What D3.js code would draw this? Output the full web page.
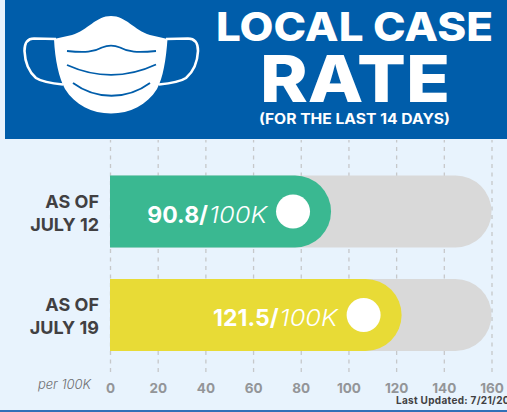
<!DOCTYPE html>
<html>

<head>
  <meta charset="utf-8">
  <title>Local Case Rate</title>
  <script src="https://d3js.org/d3.v7.min.js"></script>
  <style>
    html, body {
      margin: 0;
      padding: 0;
      background: #E8F3FD;
      overflow: hidden;
    }

    svg {
      display: block;
      font-family: Inter, "Open Sans", sans-serif;
    }

    .tick line {
      stroke: #C6C8CA;
      stroke-width: 1.3px;
      stroke-dasharray: 4 4.5;
    }

    .tick text {
      fill: #939598;
      font-size: 13.5px;
      font-weight: 700;
    }
  </style>
</head>

<body>
  <svg id="chart" width="507" height="412"></svg>

  <script>
    // values
    const dates = ["JULY 12", "JULY 19"];
    const rates = ["90.8", "121.5"];
    // the drawn bars run slightly past the printed numbers
    const barValues = [92.7, 122.3];
    const barColors = ["#3AB891", "#E8DB36"];
    const axisMax = 160;
    const axisTicks = [0, 20, 40, 60, 80, 100, 120, 140, 160];

    const svg = d3.select("#chart");

    const x = d3.scaleLinear().domain([0, axisMax]).range([110, 491.5]);
    const y = d3.scaleBand().domain(dates).range([175.5, 351]).paddingInner(0.304);
    const barH = y.bandwidth();
    const radius = barH / 2;

    // bar with square left end and round right end
    function pill(d, value) {
      const p = d3.path();
      const top = y(d);
      const end = x(value);
      p.moveTo(x(0), top);
      p.lineTo(end - radius, top);
      p.arc(end - radius, top + radius, radius, -Math.PI / 2, Math.PI / 2);
      p.lineTo(x(0), top + barH);
      p.closePath();
      return p.toString();
    }

    // header
    svg.append("rect")
      .attr("x", 5).attr("y", 0)
      .attr("width", 502).attr("height", 139)
      .attr("fill", "#005DAA");

    const mask = svg.append("g");
    mask.append("path")
      .attr("fill", "none").attr("stroke", "#fff").attr("stroke-width", 2.6)
      .attr("d", "M56 39 L34 38.5 C26 38.5 24.5 45 24.5 51 C25 62 29 72 36 78 C42 82 52 83.5 63 84.5");
    mask.append("path")
      .attr("fill", "none").attr("stroke", "#fff").attr("stroke-width", 2.6)
      .attr("d", "M166 39 L188 38.5 C196 38.5 198 45 198 51 C197.5 62 193 72 186 78 C180 82 170 83.5 159 84.5");
    mask.append("path")
      .attr("fill", "#fff")
      .attr("d", "M111 16 C96 16 88 30 72 35 L54 39 C55 60 59 78 65 89 C75 105 92 113.500 111 113.500 C130 113.500 147 105 157 89 C163 78 166 60 167.500 39 L150 35 C134 30 126 16 111 16 Z");
    const maskLines = [
      "M67 51 C85 53 94 52 102 47.500 C108 45 114 45 120 47.500 C128 52 137 53 156 51",
      "M67 65 C96 78 127 78 156 64.500",
      "M73 83 C96 100 127 100 150 83"
    ];
    mask.selectAll("path.crease").data(maskLines)
      .join("path")
      .attr("class", "crease")
      .attr("fill", "none")
      .attr("stroke", "#005DAA")
      .attr("stroke-width", 1.8)
      .attr("d", d => d);

    const titles = [
      { text: "LOCAL CASE", mid: 354.5, base: 41, size: 40, len: 277, weight: 800 },
      { text: "RATE", mid: 355, base: 102, size: 65, len: 190, weight: 800 },
      { text: "(FOR THE LAST 14 DAYS)", mid: 354.5, base: 124, size: 14, len: 191, weight: 700 }
    ];
    svg.selectAll("text.title").data(titles)
      .join("text")
      .attr("class", "title")
      .attr("x", d => d.mid)
      .attr("y", d => d.base)
      .attr("text-anchor", "middle")
      .attr("fill", "#fff")
      .attr("font-size", d => d.size)
      .attr("font-weight", d => d.weight)
      .attr("textLength", d => d.len)
      .attr("lengthAdjust", "spacingAndGlyphs")
      .text(d => d.text);

    // gridlines and tick labels
    const axis = d3.axisBottom(x)
      .tickValues(axisTicks)
      .tickSize(-232)
      .tickPadding(11);
    const axisG = svg.append("g")
      .attr("transform", "translate(0,372)")
      .call(axis);
    axisG.select(".domain").remove();
    axisG.selectAll(".tick text").attr("font-family", "Inter, sans-serif");

    // gray tracks, then the value bars on top
    svg.selectAll("path.track").data(dates)
      .join("path")
      .attr("class", "track")
      .attr("fill", "#D9D9D9")
      .attr("d", d => pill(d, axisMax));

    svg.selectAll("path.bar").data(dates)
      .join("path")
      .attr("class", "bar")
      .attr("fill", (d, i) => barColors[i])
      .attr("d", (d, i) => pill(d, barValues[i]));

    svg.selectAll("circle.knob").data(dates)
      .join("circle")
      .attr("class", "knob")
      .attr("cx", (d, i) => x(barValues[i]) - 38)
      .attr("cy", d => y(d) + radius)
      .attr("r", 17)
      .attr("fill", "#fff");

    // value label: bold number, light italic unit
    svg.selectAll("text.unit").data(dates)
      .join("text")
      .attr("class", "unit")
      .attr("x", (d, i) => x(barValues[i]) - 64)
      .attr("y", d => y(d) + 47.500)
      .attr("text-anchor", "end")
      .attr("fill", "#fff")
      .attr("font-size", 23)
      .attr("font-weight", 300)
      .attr("font-style", "italic")
      .attr("textLength", 58)
      .attr("lengthAdjust", "spacingAndGlyphs")
      .text("100K");

    svg.selectAll("text.rate").data(dates)
      .join("text")
      .attr("class", "rate")
      .attr("x", (d, i) => x(barValues[i]) - 123)
      .attr("y", d => y(d) + 47.500)
      .attr("text-anchor", "end")
      .attr("fill", "#fff")
      .attr("font-size", 23)
      .attr("font-weight", 700)
      .text((d, i) => rates[i] + "/");

    // row labels
    const labels = svg.selectAll("g.rowlabel").data(dates)
      .join("g")
      .attr("class", "rowlabel")
      .attr("text-anchor", "end")
      .attr("fill", "#414042")
      .attr("font-size", 18)
      .attr("font-weight", 700);
    labels.append("text")
      .attr("x", 99)
      .attr("y", d => y(d) + 32.500)
      .text("AS OF");
    labels.append("text")
      .attr("x", 99)
      .attr("y", d => y(d) + 55.500)
      .text(d => d);

    svg.append("text")
      .attr("x", 91).attr("y", 389)
      .attr("text-anchor", "end")
      .attr("fill", "#6D6E71")
      .attr("font-size", 13)
      .attr("font-style", "italic")
      .attr("font-weight", 300)
      .text("per 100K");

    svg.append("text")
      .attr("x", 396).attr("y", 404)
      .attr("fill", "#414042")
      .attr("font-size", 10)
      .attr("font-weight", 700)
      .attr("letter-spacing", 0.3)
      .text("Last Updated: 7/21/20");

    // strip along the bottom edge
    svg.append("rect")
      .attr("x", 0).attr("y", 410)
      .attr("width", 507).attr("height", 2)
      .attr("fill", "#3070B8");
  </script>
</body>

</html>
